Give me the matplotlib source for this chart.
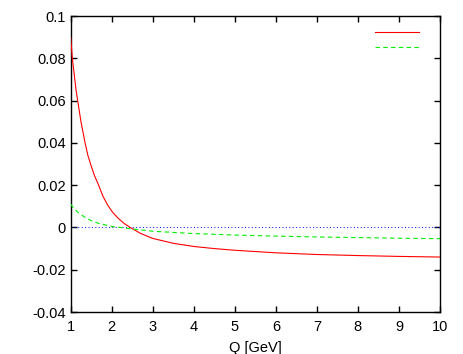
import numpy as np
import matplotlib
matplotlib.use("Agg")
import matplotlib.pyplot as plt
from matplotlib.ticker import FormatStrFormatter

plt.rcParams['font.family'] = ['Liberation Sans', 'DejaVu Sans']

# values
q_red = [1.0, 1.02, 1.04, 1.07, 1.1, 1.13, 1.17, 1.21, 1.25, 1.3, 1.35, 1.42, 1.5, 1.58,
         1.68, 1.78, 1.9, 2.02, 2.16, 2.3, 2.45, 2.7, 3.0, 3.5, 4.0, 4.5, 5.0, 6.0,
         7.0, 8.0, 9.0, 10.0]
red = [0.090, 0.085, 0.080, 0.075, 0.070, 0.065, 0.060, 0.055, 0.050, 0.045, 0.040,
       0.034, 0.029, 0.0245, 0.020, 0.015, 0.0106, 0.0072, 0.0043, 0.0019, 0.0,
       -0.0028, -0.0052, -0.0075, -0.009, -0.010, -0.0108, -0.012, -0.0128, -0.0133,
       -0.0137, -0.014]

q_green = [1.0, 1.05, 1.1, 1.2, 1.35, 1.5, 1.7, 2.0, 2.45, 3.0, 4.0, 5.0, 6.0, 7.0,
           8.0, 9.0, 10.0]
green = [0.011, 0.0097, 0.0085, 0.0068, 0.0048, 0.0032, 0.0018, 0.0005, -0.0006,
         -0.0018, -0.0029, -0.0036, -0.0041, -0.0045, -0.0048, -0.0051, -0.0053]

xticks = list(range(1, 11))
yticks = [-0.04, -0.02, 0, 0.02, 0.04, 0.06, 0.08, 0.1]

fig = plt.figure(figsize=(4.63, 3.54), dpi=100)
ax = fig.add_axes([0.1527, 0.1186, 0.7976, 0.8362])

l1, = ax.plot(q_red, red, color='#ff0000', lw=0.8, zorder=3)
l2, = ax.plot(q_green, green, color='#00ee00', lw=0.8, dashes=(4, 3), zorder=3)
ax.plot([1, 10], [0, 0], color='#0000ff', lw=0.7, dashes=(1, 2.5))

ax.set_xlim(1, 10)
ax.set_ylim(-0.04, 0.1)
ax.set_xticks(xticks)
ax.set_yticks(yticks)
ax.yaxis.set_major_formatter(FormatStrFormatter('%g'))
ax.tick_params(direction='in', length=4, width=1, top=True, right=True, labelsize=10.5)
ax.tick_params(axis='x', pad=6)
for s in ax.spines.values():
    s.set_linewidth(1.0)

ax.set_xlabel('Q [GeV]', fontsize=10.5, labelpad=5)

leg = ax.legend([l1, l2], ['', ''], loc='upper right', frameon=False, fontsize=10,
                handlelength=3.2, handletextpad=0.2, labelspacing=0.05,
                bbox_to_anchor=(0.978, 1.0), borderaxespad=0.3)

fig.savefig('out.png', dpi=100)
